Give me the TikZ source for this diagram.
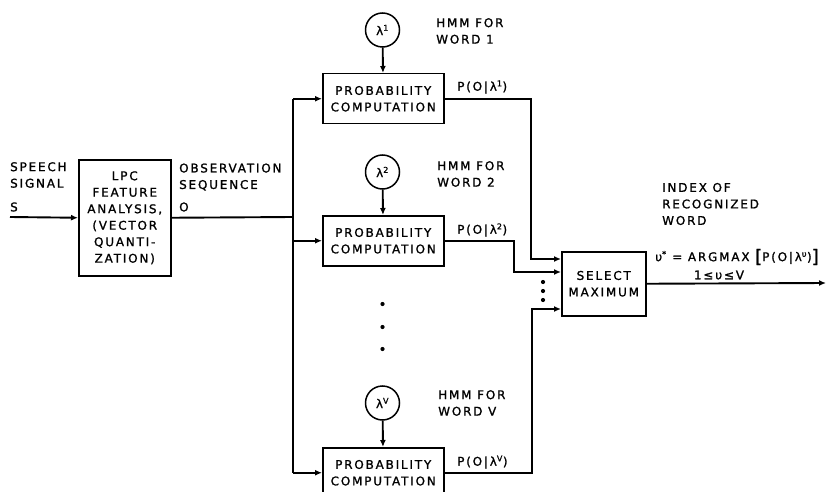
\documentclass[tikz,border=0pt]{standalone}
\usepackage{fontspec}
\setmainfont{DejaVu Sans}[LetterSpace=15,FakeBold=1.2]
\usetikzlibrary{arrows.meta}
\newcommand{\bigbr}[1]{{\fontsize{18}{18}\selectfont\raisebox{-1.5pt}{#1}}}
\begin{document}
\begin{tikzpicture}[x=1pt,y=-1pt,
  font=\fontsize{12}{16.5}\selectfont,
  blk/.style={draw, line width=1.5pt, inner sep=0pt, anchor=north west, align=center},
  lam/.style={draw, circle, line width=1.5pt, inner sep=0pt, minimum size=34pt},
  wire/.style={line width=1.9pt},
  arr/.style={wire, -{Latex[length=7pt,width=6pt]}},
  lbl/.style={align=left, anchor=west, inner sep=0pt}]
\useasboundingbox (0,0) rectangle (827,492);
\begin{scope}
\clip (0,0) rectangle (827,492);
% blocks
\node[blk, minimum width=92pt, minimum height=116pt] (lpc) at (78,159)
  {LPC\\FEATURE\\ANALYSIS,\\(VECTOR\\QUANTI-\\ZATION)};
\node[blk, minimum width=121pt, minimum height=50pt] (p1) at (322,73) {PROBABILITY\\COMPUTATION};
\node[blk, minimum width=121pt, minimum height=50pt] (p2) at (322,215) {PROBABILITY\\COMPUTATION};
\node[blk, minimum width=121pt, minimum height=50pt] (pV) at (322,447) {PROBABILITY\\COMPUTATION};
\node[blk, minimum width=84pt, minimum height=64pt] (sel) at (561,251) {SELECT\\MAXIMUM};
% models
\node[lam] (l1) at (382.5,30) {λ\textsuperscript{1}};
\node[lam] (l2) at (382.5,172) {λ\textsuperscript{2}};
\node[lam] (lV) at (382.5,403) {λ\textsuperscript{V}};
% labels
\node[lbl] (tin) at (10,175) {SPEECH\\SIGNAL};
\node[lbl] (tS) at (10,207) {S};
\node[lbl] (tobs) at (179,177) {OBSERVATION\\SEQUENCE};
\node[lbl] (tO) at (179,207) {O};
\node[lbl] (h1) at (436,31) {HMM FOR\\WORD 1};
\node[lbl] (h2) at (437,174) {HMM FOR\\WORD 2};
\node[lbl] (hV) at (438,403) {HMM FOR\\WORD V};
\node[lbl] (o1) at (457,87) {P(O|λ\textsuperscript{1})};
\node[lbl] (o2) at (457,230) {P(O|λ\textsuperscript{2})};
\node[lbl] (oV) at (457,462) {P(O|λ\textsuperscript{V})};
\node[lbl] (idx) at (662,204) {INDEX OF\\RECOGNIZED\\WORD};
\node[lbl] (fm) at (655,257) {υ\textsuperscript{*} = ARGMAX \bigbr{[}P(O|λ\textsuperscript{υ})\bigbr{]}};
\node[anchor=center, inner sep=0pt] (rng) at (719,275) {1≤υ≤V};
% coordinates
\coordinate (sin) at (10,217);
\coordinate (bx) at (293,217);
\coordinate (c1) at (531,259);
\coordinate (c2) at (514,272);
\coordinate (cV) at (532,309);
\coordinate (out) at (826,283);
% wires
\draw[arr] (sin) -- (lpc.west);
\draw[wire] (lpc.east) -- (bx);
\draw[wire] (p1.west -| bx) -- (pV.west -| bx);
\draw[arr] (p1.west -| bx) -- (p1.west);
\draw[arr] (p2.west -| bx) -- (p2.west);
\draw[arr] (pV.west -| bx) -- (pV.west);
\draw[arr] (l1) -- (p1);
\draw[arr] (l2) -- (p2);
\draw[arr] (lV) -- (pV);
\draw[arr] (p1.east) -| (c1) -- (c1 -| sel.west);
\draw[arr] (p2.east) -| (c2) -- (c2 -| sel.west);
\draw[arr] (pV.east) -| (cV) -- (cV -| sel.west);
\draw[arr] (sel.east) -- (out);
% dots
\foreach \y in {304,327,349} \fill (382.5,\y) circle (2.1pt);
\foreach \y in {282,291,300} \fill (543,\y) circle (2.1pt);
\end{scope}
\end{tikzpicture}
\end{document}
